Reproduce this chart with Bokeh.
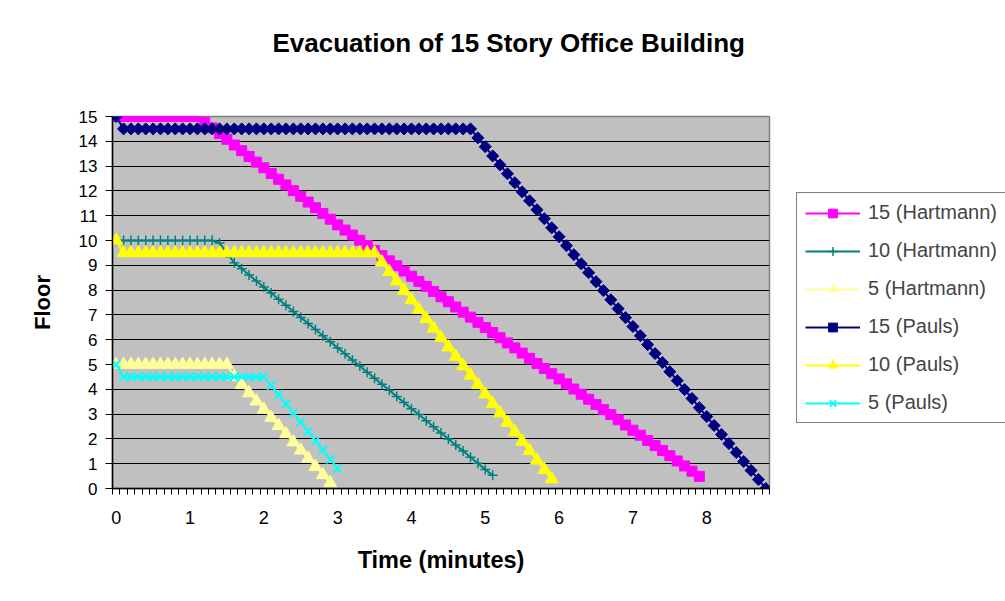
from bokeh.plotting import figure
from bokeh.models import Legend, LegendItem, FixedTicker, Range1d, Title
from bokeh.embed import file_html
from bokeh.resources import INLINE
import numpy as np

# Time categories (minutes), one every 0.1 minute
time = [0.0, 0.1, 0.2, 0.3, 0.4, 0.5, 0.6, 0.7, 0.8, 0.9,
        1.0, 1.1, 1.2, 1.3, 1.4, 1.5, 1.6, 1.7, 1.8, 1.9,
        2.0, 2.1, 2.2, 2.3, 2.4, 2.5, 2.6, 2.7, 2.8, 2.9,
        3.0, 3.1, 3.2, 3.3, 3.4, 3.5, 3.6, 3.7, 3.8, 3.9,
        4.0, 4.1, 4.2, 4.3, 4.4, 4.5, 4.6, 4.7, 4.8, 4.9,
        5.0, 5.1, 5.2, 5.3, 5.4, 5.5, 5.6, 5.7, 5.8, 5.9,
        6.0, 6.1, 6.2, 6.3, 6.4, 6.5, 6.6, 6.7, 6.8, 6.9,
        7.0, 7.1, 7.2, 7.3, 7.4, 7.5, 7.6, 7.7, 7.8, 7.9,
        8.0, 8.1, 8.2, 8.3, 8.4, 8.5, 8.6, 8.7, 8.8]

x_labels = [0, 1, 2, 3, 4, 5, 6, 7, 8]
y_labels = [0, 1, 2, 3, 4, 5, 6, 7, 8, 9, 10, 11, 12, 13, 14, 15]

hartmann_15 = [15, 15, 15, 15, 15, 15, 15, 15, 15, 15, 15, 15,
               14.77, 14.54, 14.31, 14.08, 13.85, 13.62, 13.39, 13.16, 12.93, 12.70,
               12.47, 12.24, 12.01, 11.78, 11.55, 11.32, 11.09, 10.86, 10.63,
               10.42, 10.22, 10.01, 9.80, 9.60, 9.39, 9.18, 8.98, 8.77, 8.56,
               8.35, 8.15, 7.94, 7.73, 7.53, 7.32, 7.11, 6.91, 6.70, 6.49,
               6.29, 6.08, 5.87, 5.67, 5.46, 5.25, 5.04, 4.84, 4.63, 4.42,
               4.22, 4.01, 3.80, 3.60, 3.39, 3.18, 2.98, 2.77, 2.56, 2.35,
               2.15, 1.94, 1.73, 1.53, 1.32, 1.11, 0.91, 0.70, 0.49]

hartmann_10 = [10, 10, 10, 10, 10, 10, 10, 10, 10, 10, 10, 10, 10, 10,
               9.9, 9.5, 9.1,
               8.86, 8.61, 8.37, 8.12, 7.88, 7.63, 7.39, 7.14, 6.90, 6.65,
               6.41, 6.16, 5.92, 5.67, 5.43, 5.18, 4.94, 4.69, 4.45, 4.20,
               3.96, 3.71, 3.47, 3.22, 2.98, 2.73, 2.49, 2.24, 2.00, 1.75,
               1.51, 1.26, 1.02, 0.77, 0.53]

hartmann_5 = [5, 5, 5, 5, 5, 5, 5, 5, 5, 5, 5, 5, 5, 5, 5, 5,
              4.51, 4.18, 3.85, 3.52, 3.19, 2.86, 2.53, 2.20, 1.87, 1.54,
              1.21, 0.88, 0.55, 0.22]

pauls_15 = [15,
            14.5, 14.5, 14.5, 14.5, 14.5, 14.5, 14.5, 14.5, 14.5, 14.5, 14.5, 14.5,
            14.5, 14.5, 14.5, 14.5, 14.5, 14.5, 14.5, 14.5, 14.5, 14.5, 14.5, 14.5,
            14.5, 14.5, 14.5, 14.5, 14.5, 14.5, 14.5, 14.5, 14.5, 14.5, 14.5, 14.5,
            14.5, 14.5, 14.5, 14.5, 14.5, 14.5, 14.5, 14.5, 14.5, 14.5, 14.5, 14.5,
            14.14, 13.78, 13.41, 13.05, 12.69, 12.33, 11.96, 11.60, 11.24, 10.88,
            10.51, 10.15, 9.79, 9.43, 9.06, 8.70, 8.34, 7.98, 7.61, 7.25,
            6.89, 6.53, 6.16, 5.80, 5.44, 5.08, 4.71, 4.35, 3.99, 3.63,
            3.26, 2.90, 2.54, 2.18, 1.81, 1.45, 1.09, 0.73, 0.36, 0.0]

pauls_10 = [10,
            9.5, 9.5, 9.5, 9.5, 9.5, 9.5, 9.5, 9.5, 9.5, 9.5, 9.5, 9.5,
            9.5, 9.5, 9.5, 9.5, 9.5, 9.5, 9.5, 9.5, 9.5, 9.5, 9.5, 9.5,
            9.5, 9.5, 9.5, 9.5, 9.5, 9.5, 9.5, 9.5, 9.5, 9.5, 9.5,
            9.12, 8.74, 8.36, 7.98, 7.60, 7.22, 6.84, 6.46, 6.08, 5.70,
            5.32, 4.94, 4.56, 4.18, 3.80, 3.42, 3.04, 2.66, 2.28, 1.90,
            1.52, 1.14, 0.76, 0.38]

pauls_5 = [5,
           4.5, 4.5, 4.5, 4.5, 4.5, 4.5, 4.5, 4.5, 4.5, 4.5,
           4.5, 4.5, 4.5, 4.5, 4.5, 4.5, 4.5, 4.5, 4.5, 4.5,
           4.15, 3.78, 3.42, 3.05, 2.68, 2.30, 1.92, 1.55, 1.18, 0.80]

FONT = "Liberation Sans"

p = figure(output_backend="svg", toolbar_location=None,
           frame_width=657, frame_height=372,
           min_border_left=112, min_border_right=235,
           min_border_top=116, min_border_bottom=112,
           x_range=Range1d(-0.05, 8.85), y_range=Range1d(0, 15),
           background_fill_color="#C0C0C0", border_fill_color="white",
           outline_line_color="#808080", outline_line_width=1.5)

# X axis: labels every minute, tick marks between 0.1-minute categories
minor = list(np.round(np.arange(-0.05, 8.86, 0.1), 2))
p.xaxis.ticker = FixedTicker(ticks=x_labels, minor_ticks=minor)
p.xaxis.major_tick_out = 0
p.xaxis.major_tick_in = 0
p.xaxis.minor_tick_out = 6
p.xaxis.minor_tick_in = 0
p.xaxis.minor_tick_line_color = "black"
p.xaxis.major_label_standoff = 16
p.xaxis.axis_label = "Time (minutes)"
p.xaxis.axis_label_standoff = 20

p.yaxis.ticker = FixedTicker(ticks=y_labels)
p.yaxis.major_tick_out = 7
p.yaxis.major_tick_in = 0
p.yaxis.minor_tick_out = 0
p.yaxis.minor_tick_in = 0
p.yaxis.major_label_standoff = 8
p.yaxis.axis_label = "Floor"
p.yaxis.axis_label_standoff = 21

for ax in (p.xaxis, p.yaxis):
    ax.axis_line_color = "black"
    ax.axis_line_width = 1.5
    ax.major_tick_line_color = "black"
    ax.major_label_text_font = FONT
    ax.major_label_text_color = "black"
    ax.axis_label_text_font = FONT
    ax.axis_label_text_font_style = "bold"
    ax.axis_label_text_color = "black"
p.xaxis.major_label_text_font_size = "18px"
p.yaxis.major_label_text_font_size = "17px"
p.xaxis.axis_label_text_font_size = "23.5px"
p.yaxis.axis_label_text_font_size = "22px"

p.xgrid.visible = False
p.ygrid.ticker = FixedTicker(ticks=y_labels[1:-1])
p.ygrid.grid_line_color = "black"
p.ygrid.grid_line_width = 1

series = [
    ("15 (Hartmann)", hartmann_15, "#FF00FF", "square", 10, 0.0, 1),
    ("10 (Hartmann)", hartmann_10, "#008080", "cross", 10, 0.0, 1.5),
    ("5 (Hartmann)", hartmann_5, "#FFFF99", "triangle", 13, 0.0, 1),
    ("15 (Pauls)", pauls_15, "#000080", "square", 8.5, np.pi / 4, 1),
    ("10 (Pauls)", pauls_10, "#FFFF00", "triangle", 13, 0.0, 1),
    ("5 (Pauls)", pauls_5, "#00FFFF", "x", 12, 0.0, 2),
]

items = []
for label, vals, color, marker, size, angle, mlw in series:
    xs = time[:len(vals)]
    lr = p.line(xs, vals, line_color=color, line_width=2)
    sr = p.scatter(xs, vals, marker=marker, size=size, angle=angle,
                   fill_color=color, line_color=color, line_width=mlw)
    items.append(LegendItem(label=label, renderers=[lr, sr]))

legend = Legend(items=items, location=(27, 65),
                label_text_font=FONT, label_text_font_size="20px",
                glyph_width=55, glyph_height=22, label_height=22,
                spacing=15, padding=8, label_standoff=8, margin=0,
                border_line_color="black", border_line_width=1,
                background_fill_color="white", background_fill_alpha=1)
p.add_layout(legend, "right")

# spacer (nearest the plot area) first, then the title above it
spacer = Title(text=" ", standoff=17, text_font=FONT, text_font_size="10px",
               text_color="white")
p.add_layout(spacer, "above")
title = Title(text="Evacuation of 15 Story Office Building",
              align="left", offset=160, vertical_align="top", standoff=54,
              text_font=FONT, text_font_size="26px", text_font_style="bold",
              text_color="black")
p.add_layout(title, "above")

open("out.html", "w").write(file_html(p, INLINE))
